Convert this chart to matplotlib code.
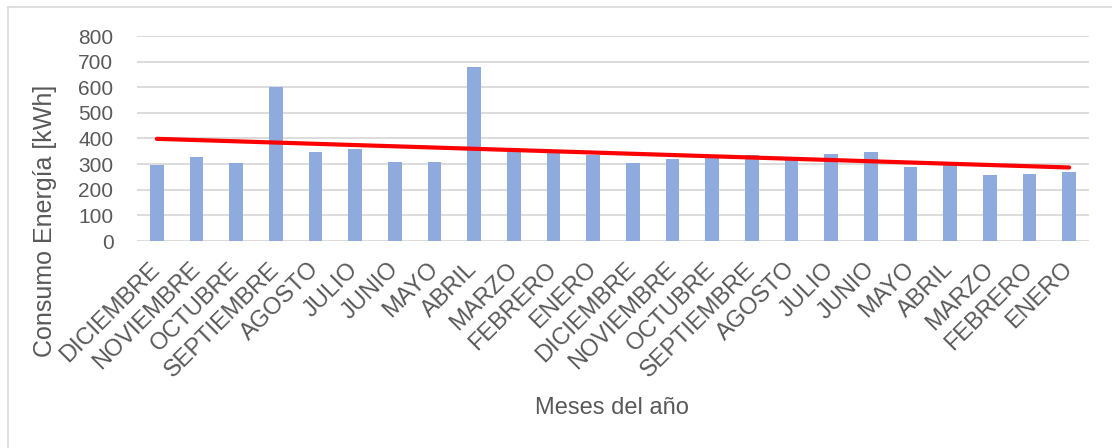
import matplotlib
matplotlib.use("Agg")
import matplotlib.pyplot as plt
import numpy as np
from matplotlib.lines import Line2D

months = ["DICIEMBRE", "NOVIEMBRE", "OCTUBRE", "SEPTIEMBRE", "AGOSTO", "JULIO",
          "JUNIO", "MAYO", "ABRIL", "MARZO", "FEBRERO", "ENERO",
          "DICIEMBRE", "NOVIEMBRE", "OCTUBRE", "SEPTIEMBRE", "AGOSTO", "JULIO",
          "JUNIO", "MAYO", "ABRIL", "MARZO", "FEBRERO", "ENERO"]
consumo = [297, 328, 304, 602, 347, 360, 309, 307, 679, 347, 345, 335,
           303, 320, 322, 334, 316, 341, 347, 290, 306, 257, 261, 270]
yticks = [0, 100, 200, 300, 400, 500, 600, 700, 800]

plt.rcParams['font.family'] = ['Liberation Sans', 'DejaVu Sans']
txt = '#595959'
W, H = 1112, 448

fig = plt.figure(figsize=(W / 100, H / 100), dpi=100)
ax = fig.add_axes([137 / W, 1 - 241 / H, (1089 - 137) / W, (241 - 36) / H])

x = np.arange(len(consumo))
ax.bar(x, consumo, width=0.35, color='#8FAADC', zorder=2)
coef = np.polyfit(x, consumo, 1)
ax.plot(x, np.polyval(coef, x), color='#FF0000', lw=3, zorder=3, solid_capstyle='round')

ax.set_ylim(0, 800)
ax.set_xlim(-0.5, len(consumo) - 0.5)
ax.set_yticks(yticks)
ax.yaxis.grid(True, color='#D9D9D9', lw=1.3, zorder=0)
ax.set_axisbelow(True)
for s in ax.spines.values():
    s.set_visible(False)
ax.tick_params(axis='both', length=0, colors=txt)
ax.tick_params(axis='y', pad=17, labelsize=15)
ax.tick_params(axis='x', pad=18, labelsize=17)
ax.set_xticks(x)
ax.set_xticklabels(months, rotation=45, ha='right', va='center', rotation_mode='anchor')

fig.text(45 / W, 1 - 221 / H, 'Consumo Energía [kWh]', rotation=90, ha='center',
         va='center', fontsize=18, color=txt)
fig.text(612 / W, 1 - 408 / H, 'Meses del año', ha='center', va='center',
         fontsize=17, color=txt)

fig.add_artist(Line2D([8 / W, 1], [1 - 7 / H, 1 - 7 / H], transform=fig.transFigure,
                      color='#D9D9D9', lw=1.2))
fig.add_artist(Line2D([8 / W, 8 / W], [0, 1 - 7 / H], transform=fig.transFigure,
                      color='#D9D9D9', lw=1.2))
fig.savefig('out.png', dpi=100)
